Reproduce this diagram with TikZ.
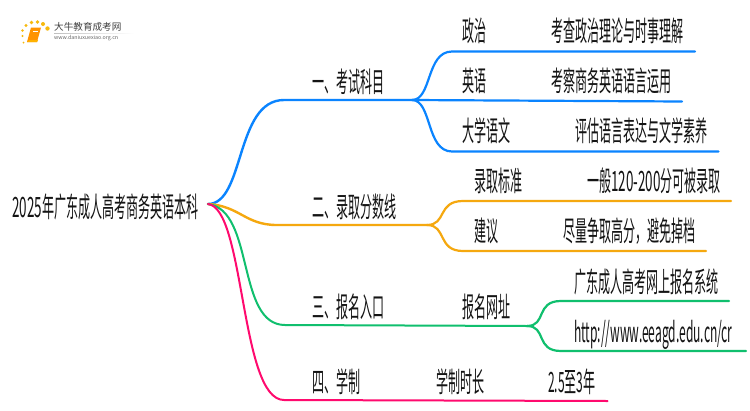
\documentclass[tikz,border=0pt]{standalone}
\usepackage{fontspec}
\newfontfamily\cjk[FakeStretch=0.43]{Noto Sans CJK SC}
\newfontfamily\cjkd[FakeStretch=0.48]{Noto Sans CJK SC}
\newfontfamily\cjklogo{Noto Sans CJK SC}
\definecolor{cblue}{HTML}{0A84FF}
\definecolor{corange}{HTML}{F5A80F}
\definecolor{cgreen}{HTML}{10BF6E}
\definecolor{cpink}{HTML}{FF0A6E}
\tikzset{
  lab/.style={anchor=base west,inner sep=0pt,text=black!92,font=\cjk\fontsize{28}{28}\selectfont},
  mainb/.style={line width=2.4pt,line cap=round},
  pinkb/.style={line width=2pt,line cap=round},
  subb/.style={line width=2.2pt,line cap=round},
}
\begin{document}
\begin{tikzpicture}[x=1pt,y=-1pt]
\useasboundingbox (0,0) rectangle (750,410);
\fill[white] (0,0) rectangle (750,410);
% logo
\foreach \px/\py/\r in {23.5/42.5/1,22.5/36/1.1,22.5/30.5/1.3,26/25.5/1.6,31.5/22.5/1.8,37.5/22/1.9,43/24/2,47.5/28.5/2.2}
  \fill[corange!80!yellow] (\px,\py) circle (\r pt);
\fill[orange!85!yellow] (31,27.5) -- (41,27.5) -- (37,42) -- (27,42) -- cycle;
\fill[orange!60!yellow] (29.5,40) -- (38,40) -- (37,42) -- (27,42) -- cycle;
\draw[white,line width=.5pt] (33,31) -- (38,31);
\node[anchor=west,inner sep=0pt,text=black!75,font=\cjklogo\fontsize{9.6}{10}\selectfont] (logoa) at (54,27) {大牛教育成考网};
\node[anchor=west,inner sep=0pt,text=black!60,font=\cjklogo\fontsize{5.3}{6}\selectfont] (logob) at (54,38.5) {www.daniuxuexiao.org.cn};
\shade[left color=black!25,right color=white] (54,33) rectangle (134,33.7);
% labels
\node[lab] (root) at (12,217.5) {{\cjkd 2025}年广东成人高考商务英语本科};
\node[lab] (a) at (312,92.5) {一、考试科目};
\node[lab] (b) at (312,217.5) {二、录取分数线};
\node[lab] (c) at (312,317.5) {三、报名入口};
\node[lab] (d) at (312,392.5) {四、学制};
\node[lab] (a1) at (462,41.5) {政治};
\node[lab] (a1x) at (551,41.5) {考查政治理论与时事理解};
\node[lab] (a2) at (462,91.5) {英语};
\node[lab] (a2x) at (551,91.5) {考察商务英语语言运用};
\node[lab] (a3) at (462,141.5) {大学语文};
\node[lab] (a3x) at (575,141.5) {评估语言表达与文学素养};
\node[lab] (b1) at (474,191.5) {录取标准};
\node[lab] (b1x) at (587,191.5) {一般{\cjkd 120-200}分可被录取};
\node[lab] (b2) at (474,241.5) {建议};
\node[lab] (b2x) at (563,241.5) {尽量争取高分，避免掉档};
\node[lab] (c1) at (462,317.5) {报名网址};
\node[lab] (c2) at (574,292.5) {广东成人高考网上报名系统};
\node[lab] (c3) at (574,342.5) {http://www.eeagd.edu.cn/cr};
\node[lab] (d1) at (436,392.5) {学制时长};
\node[lab] (d1x) at (548,392.5) {2.5至3年};
% junctions
\coordinate (o) at (208,204);
\coordinate (ja) at (284,100);
\coordinate (fa) at (412,100);
\coordinate (ea1) at (695,51.5);
\coordinate (ea2) at (682,101.5);
\coordinate (ea3) at (718.5,151.5);
\coordinate (jb) at (277,225);
\coordinate (fb) at (427,225);
\coordinate (eb1) at (731,201);
\coordinate (eb2) at (706,251);
\coordinate (jc) at (285,325);
\coordinate (fc) at (527,326);
\coordinate (ec1) at (729,301);
\coordinate (ec2) at (746,351);
\coordinate (jd) at (284,400);
\coordinate (ed) at (607.5,401);
% main branches
\draw[mainb,cblue] (o) .. controls (245,204) and (235,100) .. (ja) -- (fa);
\draw[mainb,corange] (o) .. controls (240,206) and (245,225) .. (jb) -- (fb);
\draw[subb,cgreen,line width=2pt] (o) .. controls (255,210) and (236,325) .. (jc) -- (fc);
\draw[pinkb,cpink] (o) .. controls (245,208) and (240,400) .. (jd) -- (ed);
% sub branches
\draw[subb,cblue] (fa) .. controls (432,100) and (426,51.5) .. (452,51.5) -- (ea1);
\draw[subb,cblue] (fa) -- (ea2);
\draw[subb,cblue] (fa) .. controls (432,100) and (426,151.5) .. (452,151.5) -- (ea3);
\draw[subb,corange] (fb) .. controls (447,225) and (437,201) .. (463,201) -- (eb1);
\draw[subb,corange] (fb) .. controls (447,225) and (437,251) .. (463,251) -- (eb2);
\draw[subb,cgreen] (fc) .. controls (547,326) and (535,301) .. (561,301) -- (ec1);
\draw[subb,cgreen] (fc) .. controls (547,326) and (535,351) .. (561,351) -- (ec2);
\end{tikzpicture}
\end{document}
